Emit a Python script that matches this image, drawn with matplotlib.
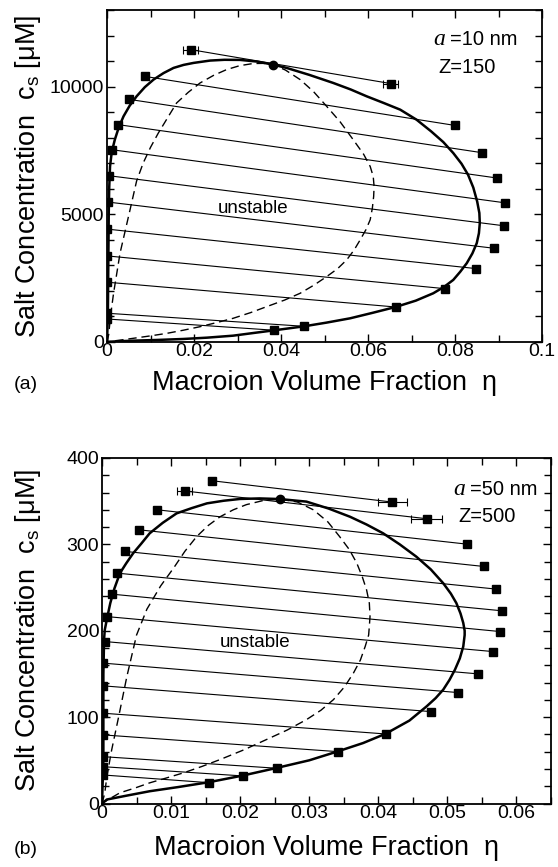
import matplotlib
matplotlib.use("Agg")
import matplotlib.pyplot as plt
from matplotlib.ticker import MultipleLocator, FixedLocator, FixedFormatter

plt.rcParams['font.family'] = ['Liberation Sans', 'DejaVu Sans']
plt.rcParams['mathtext.fontset'] = 'custom'
plt.rcParams['mathtext.rm'] = 'Liberation Sans'
plt.rcParams['mathtext.it'] = 'Liberation Sans:italic'

# ---------------- panel (a): a = 10 nm, Z = 150 ----------------
a_left_x = [0.0192, 0.0087, 0.0051, 0.0026, 0.0011, 0.0005, 0.0002, 0.0001, 0.0001, 0.0001, 0.0001, 0.0001]
a_left_y = [11450, 10400, 9500, 8510, 7530, 6510, 5480, 4420, 3370, 2340, 1125, 900]
a_right_x = [0.0652, 0.0800, 0.0863, 0.0897, 0.0915, 0.0913, 0.0890, 0.0848, 0.0776, 0.0664, 0.0453, 0.0385]
a_right_y = [10120, 8480, 7410, 6420, 5450, 4550, 3670, 2875, 2090, 1370, 615, 460]
a_left_xerr = [0.0017, 0, 0, 0, 0, 0, 0, 0, 0, 0, 0, 0]
a_right_xerr = [0.0017, 0, 0, 0, 0, 0, 0, 0, 0, 0, 0, 0]
a_crit_x = [0.0381]
a_crit_y = [10863]

a_bin_x = [0, 0.0002, 0.0003, 0.0004, 0.0005, 0.0007, 0.0011, 0.0018, 0.0027, 0.0038, 0.0052, 0.0068,
           0.0087, 0.0107, 0.0130, 0.0153, 0.0176, 0.0199, 0.0237, 0.0270, 0.0306, 0.0345, 0.0381,
           0.0413, 0.0465, 0.0520, 0.0560, 0.0597, 0.0636, 0.0674, 0.0712, 0.0745, 0.0773, 0.0796,
           0.0815, 0.0830, 0.0842, 0.0851, 0.0856, 0.0857, 0.0855, 0.0850, 0.0840, 0.0827, 0.0812,
           0.0796, 0.0775, 0.0750, 0.0710, 0.0664, 0.0610, 0.0559, 0.0505, 0.0453, 0.0385, 0.0340,
           0.0290, 0.0230, 0.0175, 0.0115, 0.0060, 0.0025, 0.0007, 0]
a_bin_y = [0, 1000, 3000, 5000, 6000, 6875, 7450, 7922, 8400, 8837, 9250, 9620,
           9980, 10275, 10530, 10732, 10850, 10928, 11020, 11050, 11046, 10980, 10863,
           10732, 10460, 10144, 9890, 9620, 9360, 9098, 8700, 8250, 7830, 7399,
           6980, 6550, 6050, 5500, 5050, 4654, 4260, 3870, 3470, 3085, 2750,
           2431, 2160, 1908, 1620, 1373, 1140, 928, 760, 614, 459, 360,
           248, 170, 118, 80, 52, 28, 12, 0]
a_spin_x = [0, 0.0004, 0.0008, 0.0015, 0.0030, 0.0053, 0.0068, 0.0083, 0.0100, 0.0118, 0.0140, 0.0160,
            0.0187, 0.0214, 0.0245, 0.0275, 0.0305, 0.0336, 0.0360, 0.0381, 0.0410, 0.0444, 0.0475,
            0.0505, 0.0536, 0.0566, 0.0590, 0.0605,
            0.0612, 0.0614, 0.0613, 0.0610, 0.0605, 0.0595, 0.0582, 0.0568, 0.0551, 0.0530, 0.0505,
            0.0476, 0.0444, 0.0408, 0.0367, 0.0330, 0.0290, 0.0252, 0.0214, 0.0175, 0.0137, 0.0098,
            0.0060, 0.0035, 0.0015, 0]
a_spin_y = [0, 300, 1000, 1900, 3480, 5180, 6300, 7000, 7620, 8183, 8800, 9359,
            9780, 10144, 10440, 10667, 10820, 10905, 10910, 10863, 10650, 10275, 9800,
            9228, 8620, 7922, 7350, 6875,
            6484, 6090, 5700, 5240, 4784, 4390, 4000, 3600, 3216, 2870, 2561,
            2230, 1908, 1640, 1384, 1150, 928, 760, 600, 460, 337, 235,
            144, 85, 40, 0]
a_xticks = [0, 0.02, 0.04, 0.06, 0.08, 0.1]
a_xticklabels = ['0', '0.02', '0.04', '0.06', '0.08', '0.1']
a_yticks = [0, 5000, 10000]
a_yticklabels = ['0', '5000', '10000']

# ---------------- panel (b): a = 50 nm, Z = 500 ----------------
b_left_x = [0.0159, 0.0120, 0.0079, 0.0053, 0.0034, 0.0022, 0.0014, 0.0007, 0.0004, 0.0002, 0.0002,
            0.0002, 0.0002, 0.0002, 0.0002, 0.0002]
b_left_y = [373.7, 361.8, 340.1, 316.9, 291.8, 266.7, 242.4, 216.4, 187.5, 162.5, 136.2,
            104.5, 79.4, 54.2, 42.6, 33.0]
b_right_x = [0.0420, 0.0470, 0.0528, 0.0553, 0.0571, 0.0579, 0.0576, 0.0566, 0.0544, 0.0516, 0.0476,
             0.0411, 0.0342, 0.0253, 0.0204, 0.0155]
b_right_y = [349.0, 329.7, 300.3, 274.4, 248.2, 223.1, 199.1, 175.9, 150.1, 128.4, 106.4,
             80.5, 60.0, 40.8, 31.9, 24.1]
b_left_xerr = [0.0005, 0.0011, 0, 0, 0, 0, 0, 0, 0, 0, 0, 0, 0, 0, 0, 0]
b_right_xerr = [0.0021, 0.0022, 0, 0, 0, 0, 0, 0, 0, 0, 0, 0, 0, 0, 0, 0]
b_crit_x = [0.0257]
b_crit_y = [352.5]

b_bin_x = [0, 0.0002, 0.0002, 0.0003, 0.0004, 0.0008, 0.0012, 0.0018, 0.0026, 0.0035, 0.0045, 0.0057,
           0.0069, 0.0088, 0.0108, 0.0130, 0.0152, 0.0176, 0.0200, 0.0228, 0.0257, 0.0296, 0.0328,
           0.0359, 0.0383, 0.0407, 0.0431, 0.0455, 0.0476, 0.0494, 0.0505, 0.0513, 0.0519, 0.0523,
           0.0525, 0.0525, 0.0523, 0.0518, 0.0511, 0.0503, 0.0494, 0.0483, 0.0470, 0.0445, 0.0411,
           0.0378, 0.0342, 0.0300, 0.0253, 0.0204, 0.0155, 0.0110, 0.0069, 0.0035, 0.0007, 0]
b_bin_y = [0, 50, 150, 190, 201, 217, 232, 249, 266.7, 278, 289.6, 301,
           312.8, 325, 335.9, 342, 347.5, 350.5, 352.6, 353.2, 352.5, 349.5, 341.5,
           332, 323, 312.8, 300, 285.8, 271, 255, 243, 232, 220, 209,
           200, 195, 181.8, 168, 155, 143, 131.8, 122, 112.5, 96, 80.9,
           70, 60.5, 50, 41.2, 32.4, 24.7, 19, 14.2, 9, 4.6, 0]
b_spin_x = [0, 0.0004, 0.0007, 0.0014, 0.0024, 0.0036, 0.0050, 0.0065, 0.0085, 0.0104, 0.0120, 0.0137,
            0.0154, 0.0171, 0.0190, 0.0209, 0.0232, 0.0257, 0.0283, 0.0306, 0.0327, 0.0344, 0.0358,
            0.0369, 0.0377, 0.0383, 0.0387, 0.0388, 0.0387, 0.0386, 0.0381, 0.0374, 0.0364, 0.0351,
            0.0335, 0.0317, 0.0296, 0.0268, 0.0238, 0.0205, 0.0171, 0.0145, 0.0118, 0.0093, 0.0069,
            0.0048, 0.0026, 0.0010, 0]
b_spin_y = [0, 12, 31, 62, 100, 147, 195, 225, 252, 273, 292, 309,
            322, 332, 340, 346, 350.5, 352.5, 349, 340, 326, 309, 294,
            278, 262, 247.4, 232, 216.5, 205, 195, 181.8, 166, 151, 135,
            120.2, 108, 97.1, 85, 74, 62, 50.9, 43, 35.5, 29.5, 23.9,
            18, 12.4, 5, 0]
b_xticks = [0, 0.01, 0.02, 0.03, 0.04, 0.05, 0.06]
b_xticklabels = ['0', '0.01', '0.02', '0.03', '0.04', '0.05', '0.06']
b_yticks = [0, 100, 200, 300, 400]
b_yticklabels = ['0', '100', '200', '300', '400']

W, H = 558, 867
fig = plt.figure(figsize=(W / 100, H / 100), dpi=100)


def box(l, r, t, b):
    return [l / W, (H - b) / H, (r - l) / W, (b - t) / H]


L1, R1, T1, B1 = 107, 542, 10, 342
L2, R2, T2, B2 = 102, 551, 458, 803.5
ax1 = fig.add_axes(box(L1, R1, T1, B1))
ax2 = fig.add_axes(box(L2, R2, T2, B2))

TICK_FS = 14
LABEL_FS = 19.5


def draw(ax, lx, ly, rx, ry, lxe, rxe, cx, cy, bx, by, sx, sy,
         xlim, ylim, xt, xtl, yt, ytl, xminor, yminor, unst, txt_a, txt_z, tpos, zpos,
         left_px, width_px, height_px, xlab_px):
    ax.plot(sx, sy, color='black', lw=1.0, ls=(0, (6, 3.5)))
    ax.plot(bx, by, color='black', lw=1.8, solid_joinstyle='round')
    for x0, y0, x1, y1 in zip(lx, ly, rx, ry):
        ax.plot([x0, x1], [y0, y1], color='black', lw=0.8)
    for xs, ys, xe in ((lx, ly, lxe), (rx, ry, rxe)):
        for x0, y0, e in zip(xs, ys, xe):
            if e > 0:
                ax.errorbar([x0], [y0], xerr=[e], fmt='none', ecolor='black',
                            elinewidth=0.8, capsize=3, capthick=0.8)
    ax.plot(lx, ly, ls='none', marker='s', ms=5.4, color='black')
    ax.plot(rx, ry, ls='none', marker='s', ms=5.4, color='black')
    ax.plot(cx, cy, ls='none', marker='o', ms=6, color='black')
    ax.set_xlim(*xlim)
    ax.set_ylim(*ylim)
    ax.xaxis.set_major_locator(FixedLocator(xt))
    ax.xaxis.set_major_formatter(FixedFormatter(xtl))
    ax.yaxis.set_major_locator(FixedLocator(yt))
    ax.yaxis.set_major_formatter(FixedFormatter(ytl))
    ax.xaxis.set_minor_locator(MultipleLocator(xminor))
    ax.yaxis.set_minor_locator(MultipleLocator(yminor))
    ax.tick_params(which='both', direction='in', top=True, right=True,
                   labelsize=TICK_FS, width=1.0)
    ax.tick_params(axis='x', which='both', pad=1)
    ax.tick_params(axis='y', which='both', pad=2)
    ax.tick_params(which='major', length=6)
    ax.tick_params(which='minor', length=5)
    for s in ax.spines.values():
        s.set_linewidth(1.3)
    ax.set_xlabel('Macroion Volume Fraction  \u03b7', fontsize=LABEL_FS, va='center')
    ax.set_ylabel('Salt Concentration  c$_{\\rm s}$ [\u03bcM]', fontsize=LABEL_FS)
    ax.yaxis.set_label_coords((43 - left_px) / width_px, 0.5)
    ax.xaxis.set_label_coords(0.5, -xlab_px / height_px)
    ax.text(unst[0], unst[1], 'unstable', fontsize=13.5, ha='center', va='center')
    ax.text(tpos[0], tpos[1], txt_a, transform=ax.transAxes, fontsize=14.5,
            ha='left', va='baseline')
    ax.text(tpos[0] - 0.012, tpos[1], 'a', transform=ax.transAxes, fontsize=17,
            ha='right', va='baseline', family='Liberation Serif', style='italic')
    ax.text(zpos[0], zpos[1], txt_z, transform=ax.transAxes, fontsize=14.5,
            ha='left', va='baseline')


draw(ax1, a_left_x, a_left_y, a_right_x, a_right_y, a_left_xerr, a_right_xerr,
     a_crit_x, a_crit_y, a_bin_x, a_bin_y, a_spin_x, a_spin_y,
     (0, 0.1), (0, 13000), a_xticks, a_xticklabels, a_yticks, a_yticklabels,
     0.01, 1000, (0.0336, 5243), '=10 nm', 'Z=150', (0.789, 0.895), (0.761, 0.810),
     L1, R1 - L1, B1 - T1, 41)
draw(ax2, b_left_x, b_left_y, b_right_x, b_right_y, b_left_xerr, b_right_xerr,
     b_crit_x, b_crit_y, b_bin_x, b_bin_y, b_spin_x, b_spin_y,
     (0, 0.065), (0, 400), b_xticks, b_xticklabels, b_yticks, b_yticklabels,
     0.005, 20, (0.0222, 186), '=50 nm', 'Z=500', (0.820, 0.892), (0.793, 0.814),
     L2, R2 - L2, B2 - T2, 44.5)

fig.text(14 / W, 1 - 389 / H, '(a)', fontsize=14, ha='left', va='baseline')
fig.text(14 / W, 1 - 854 / H, '(b)', fontsize=14, ha='left', va='baseline')

fig.savefig('out.png', dpi=100)
